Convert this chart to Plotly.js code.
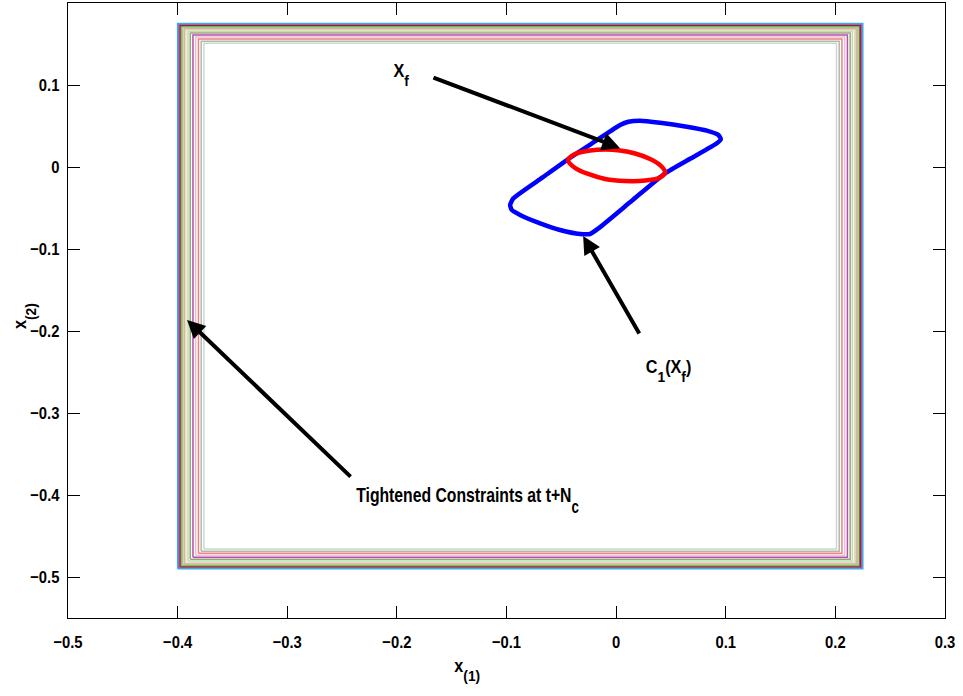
<!DOCTYPE html>
<html>
<head>
<meta charset="utf-8">
<script src="https://cdn.plot.ly/plotly-3.0.1.min.js"></script>
<style>
  html, body { margin: 0; padding: 0; background: #fff; }
  #chart { width: 963px; height: 696px; }
</style>
</head>
<body>
<div id="chart"></div>
<script>
// Tightened state constraint sets, outermost first (bounds per rectangle)
const rectLeft   = [-0.400, -0.399, -0.398, -0.397, -0.3955, -0.394, -0.3925, -0.3905, -0.3885, -0.386, -0.3835, -0.381, -0.3785, -0.376];
const rectRight  = [0.225, 0.224, 0.223, 0.222, 0.2205, 0.219, 0.2175, 0.2155, 0.2135, 0.211, 0.2085, 0.206, 0.2035, 0.201];
const rectBottom = [-0.490, -0.489, -0.488, -0.487, -0.4855, -0.484, -0.4825, -0.4805, -0.4785, -0.476, -0.4735, -0.471, -0.4685, -0.466];
const rectTop    = [0.175, 0.174, 0.173, 0.172, 0.1705, 0.169, 0.1675, 0.1655, 0.1635, 0.161, 0.1585, 0.156, 0.1535, 0.151];
const rectColors = ['#3fa9e0', '#b04fc8', '#8c2a2a', '#7a8c2a', '#9ad27a', '#e8a0c8', '#d9e89a',
                    '#b8e0b0', '#a0a080', '#b050b0', '#f0c0d0', '#f08080', '#b0b8b0', '#c8d8d0'];

// One-step controllable set C1(Xf)
const c1x = [0.0036, -0.0182, -0.0401, -0.0670, -0.0937, -0.0967, -0.0952, -0.0876, -0.0693, -0.0511,
             -0.0328, -0.0237, -0.0161, 0.0143, 0.0447, 0.0683, 0.0919, 0.0955, 0.0933, 0.0828,
             0.0645, 0.0401, 0.0219, 0.0112, 0.0036];
const c1y = [0.0512, 0.0321, 0.0130, -0.0126, -0.0382, -0.0463, -0.0524, -0.0585, -0.0687, -0.0768,
             -0.0817, -0.0817, -0.0748, -0.0412, -0.0077, 0.0106, 0.0289, 0.0338, 0.0390, 0.0443,
             0.0491, 0.0540, 0.0565, 0.0552, 0.0512];

// Terminal set Xf
const xfx = [-0.0438, -0.0374, -0.0237, -0.0100, 0.0036, 0.0173, 0.0310, 0.0401, 0.0447, 0.0401,
             0.0265, 0.0082, -0.0100, -0.0255, -0.0374, -0.0438];
const xfy = [0.0085, 0.0159, 0.0201, 0.0213, 0.0201, 0.0165, 0.0098, 0.0024, -0.0061, -0.0128,
             -0.0165, -0.0171, -0.0146, -0.0085, -0.0012, 0.0085];

const xTickVals = [-0.5, -0.4, -0.3, -0.2, -0.1, 0, 0.1, 0.2, 0.3];
const xTickText = ['\u22120.5', '\u22120.4', '\u22120.3', '\u22120.2', '\u22120.1', '0', '0.1', '0.2', '0.3'];
const yTickVals = [-0.5, -0.4, -0.3, -0.2, -0.1, 0, 0.1];
const yTickText = ['\u22120.5', '\u22120.4', '\u22120.3', '\u22120.2', '\u22120.1', '0', '0.1'];

const FONT = '"Liberation Sans", Arial, sans-serif';
const boldFont = (size) => ({ family: FONT, size: size, color: '#000', weight: 'bold' });

const traces = [];
for (let i = rectLeft.length - 1; i >= 0; i--) {
  traces.push({
    type: 'scatter', mode: 'lines', hoverinfo: 'skip', showlegend: false,
    x: [rectLeft[i], rectRight[i], rectRight[i], rectLeft[i], rectLeft[i]],
    y: [rectBottom[i], rectBottom[i], rectTop[i], rectTop[i], rectBottom[i]],
    line: { color: rectColors[i], width: 1.5 }
  });
}
traces.push({
  type: 'scatter', mode: 'lines', showlegend: false, name: 'C1(Xf)',
  x: c1x, y: c1y, line: { color: '#0000ff', width: 4.5, shape: 'spline', smoothing: 0.5 }
});
traces.push({
  type: 'scatter', mode: 'lines', showlegend: false, name: 'Xf',
  x: xfx, y: xfy, line: { color: '#ff0000', width: 4.5, shape: 'spline', smoothing: 1 }
});

function arrow(x, y, ax, ay) {
  return {
    x: x, y: y, ax: ax, ay: ay, xref: 'x', yref: 'y', axref: 'x', ayref: 'y',
    text: '', showarrow: true, arrowhead: 2, arrowsize: 0.9, arrowwidth: 4, arrowcolor: '#000'
  };
}
function label(text, x, y, size) {
  return {
    x: x, y: y, xref: 'x', yref: 'y', text: text, showarrow: false,
    xanchor: 'left', yanchor: 'middle', font: boldFont(size)
  };
}

const annotations = [
  arrow(0.0036, 0.023, -0.168, 0.1098),
  arrow(-0.0301, -0.0841, 0.0219, -0.2049),
  arrow(-0.3914, -0.1866, -0.2409, -0.3793),
  label('X<sub>f</sub>', -0.2044, 0.1150, 18),
  label('C<sub>1</sub>(X<sub>f</sub>)', 0.0265, -0.2460, 18),
  label('Tightened Constraints at t+N<sub>c</sub>', -0.2381, -0.4010, 21),
  { x: 0.44, y: -0.080, xref: 'paper', yref: 'paper', text: 'x<sub>(1)</sub>', showarrow: false,
    xanchor: 'left', yanchor: 'middle', font: boldFont(18) },
  { x: -0.052, y: 0.4927, xref: 'paper', yref: 'paper', text: 'x<sub>(2)</sub>', showarrow: false,
    textangle: -90, xanchor: 'center', yanchor: 'middle', font: boldFont(18) }
];
// horizontal squeeze per annotation (narrow bold lettering)
const annSqueeze = [1, 1, 1, 0.9, 0.9, 0.75, 0.9, 0.9];
const tickSqueeze = 0.87;

const axisCommon = {
  showgrid: false, zeroline: false, showline: true, linecolor: '#000', linewidth: 1.2,
  mirror: 'allticks', ticks: 'inside', ticklen: 12, tickwidth: 1, tickcolor: '#000',
  tickfont: boldFont(17)
};

const layout = {
  width: 963, height: 696,
  margin: { l: 68, r: 18, t: 3, b: 78 },
  paper_bgcolor: '#fff', plot_bgcolor: '#fff',
  xaxis: Object.assign({}, axisCommon, {
    range: [-0.5, 0.3], tickvals: xTickVals, ticktext: xTickText, ticklabelstandoff: 8
  }),
  yaxis: Object.assign({}, axisCommon, {
    range: [-0.55, 0.2], tickvals: yTickVals, ticktext: yTickText, ticklabelstandoff: 4
  }),
  annotations: annotations
};

// compress a text element horizontally about its anchor point
function squeeze(t, s, mode) {
  if (!t.textContent || s === 1) return;
  const bb = t.getBBox();
  const ax = mode === 'end' ? bb.x + bb.width : mode === 'middle' ? bb.x + bb.width / 2 : bb.x;
  const prev = t.getAttribute('transform') || '';
  t.setAttribute('transform', prev + ' translate(' + ax + ',0) scale(' + s + ',1) translate(' + (-ax) + ',0)');
}

// drop subscripts lower and keep them a bit larger, TeX-style
function deepenSubscripts(t) {
  t.querySelectorAll('tspan').forEach(function (ts) {
    const dy = ts.getAttribute('dy');
    if (dy === '0.3em') {
      ts.setAttribute('dy', '0.62em');
      ts.style.fontSize = '85%';
    } else if (dy === '-0.21em') {
      ts.setAttribute('dy', '-0.53em');
    }
  });
}

Plotly.newPlot('chart', traces, layout, { displayModeBar: false, staticPlot: true }).then(function (gd) {
  gd.querySelectorAll('.xtick text, .ytick text').forEach(function (t) {
    squeeze(t, tickSqueeze, t.getAttribute('text-anchor'));
  });
  gd.querySelectorAll('g.annotation').forEach(function (g) {
    const idx = +g.getAttribute('data-index');
    const t = g.querySelector('text.annotation-text');
    if (t) {
      deepenSubscripts(t);
      squeeze(t, annSqueeze[idx], 'start');
    }
  });
});
</script>
</body>
</html>
